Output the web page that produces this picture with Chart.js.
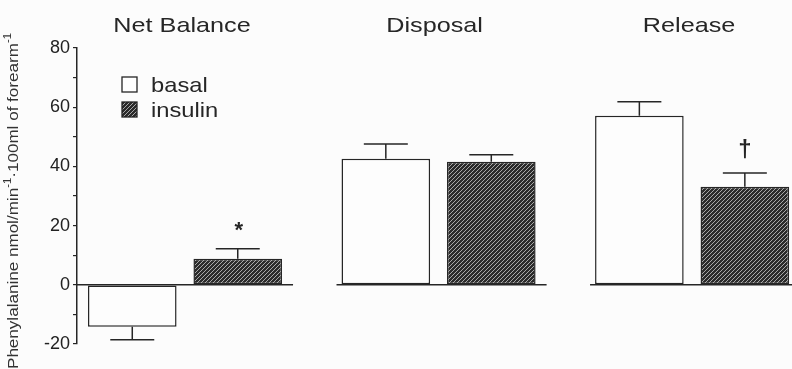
<!DOCTYPE html>
<html>
<head>
<meta charset="utf-8">
<script src="https://cdn.jsdelivr.net/npm/chart.js@4/dist/chart.umd.min.js"></script>
<style>
  html, body { margin: 0; padding: 0; background: #fcfcfc; }
  #wrap { width: 792px; height: 369px; }
</style>
</head>
<body>
<div id="wrap"><canvas id="chartPhe"></canvas></div>
<script>
// data
var groups     = ['Net Balance', 'Disposal', 'Release'];
var basal      = [-14.2, 42.6, 57.1];
var basalErr   = [4.4, 5.0, 4.7];
var insulin    = [8.8, 41.6, 33.1];
var insulinErr = [3.4, 2.3, 4.7];
var marks      = ['*', '', '\u2020'];   // significance symbols over insulin bars
var yTicks     = [-20, 0, 20, 40, 60, 80];

var ink = '#262626';
var font = '"Liberation Sans", Arial, Helvetica, sans-serif';

function hatch() {
    var c = document.createElement('canvas');
    c.width = 4; c.height = 4;
    var g = c.getContext('2d');
    g.fillStyle = '#2b2b2b';
    g.fillRect(0, 0, 4, 4);
    g.strokeStyle = '#a8a8a8';
    g.lineWidth = 1;
    g.beginPath();
    g.moveTo(0, 4); g.lineTo(4, 0);
    g.moveTo(-1, 1); g.lineTo(1, -1);
    g.moveTo(3, 5); g.lineTo(5, 3);
    g.stroke();
    return g.createPattern(c, 'repeat');
}
var hatchFill = hatch();

function stretchText(ctx, txt, x, y, sx, align) {
    ctx.save();
    ctx.translate(x, y);
    ctx.scale(sx, 1);
    ctx.textAlign = align || 'center';
    ctx.fillText(txt, 0, 0);
    ctx.restore();
}

var extras = {
    id: 'extras',
    afterDatasetsDraw: function(chart) {
        var ctx = chart.ctx;
        var y = chart.scales.y;
        var area = chart.chartArea;
        var mB = chart.getDatasetMeta(0).data;
        var mI = chart.getDatasetMeta(1).data;
        var y0 = y.getPixelForValue(0);
        ctx.save();
        ctx.strokeStyle = ink;
        ctx.fillStyle = ink;
        ctx.lineWidth = 1.5;

        // baseline pieces per group
        for (var i = 0; i < groups.length; i++) {
            var l = mB[i].x - mB[i].width / 2 - 5;
            if (i === 0) l = area.left;
            var r = Math.min(mI[i].x + mI[i].width / 2 + 11, area.right);
            ctx.beginPath();
            ctx.moveTo(l, y0); ctx.lineTo(r, y0);
            ctx.stroke();
        }

        // error bars
        function errBar(el, v, e) {
            var s = v < 0 ? -1 : 1;
            var top = y.getPixelForValue(v);
            var end = y.getPixelForValue(v + s * e);
            ctx.beginPath();
            ctx.moveTo(el.x, top); ctx.lineTo(el.x, end);
            ctx.moveTo(el.x - 22, end); ctx.lineTo(el.x + 22, end);
            ctx.stroke();
            return end;
        }
        for (var i = 0; i < groups.length; i++) {
            errBar(mB[i], basal[i], basalErr[i]);
            var end = errBar(mI[i], insulin[i], insulinErr[i]);
            if (marks[i] === '*') {
                ctx.font = 'bold 22px ' + font;
                stretchText(ctx, marks[i], mI[i].x + 1, end - 12, 1, 'center');
            } else if (marks[i]) {
                ctx.font = 'bold 24px ' + font;
                stretchText(ctx, marks[i], mI[i].x, end - 16, 1, 'center');
            }
        }

        // group titles
        ctx.font = '21px ' + font;
        ctx.textBaseline = 'alphabetic';
        var nudge = [-3, -4, -3];
        for (var i = 0; i < groups.length; i++) {
            var cx = (mB[i].x + mI[i].x) / 2 + nudge[i];
            stretchText(ctx, groups[i], cx, 32, 1.2, 'center');
        }

        // legend
        ctx.lineWidth = 1.3;
        ctx.fillStyle = '#fff';
        ctx.fillRect(122, 77, 15, 15);
        ctx.strokeRect(122, 77, 15, 15);
        ctx.fillStyle = hatchFill;
        ctx.fillRect(122, 102, 15, 15);
        ctx.strokeRect(122, 102, 15, 15);
        ctx.fillStyle = ink;
        ctx.font = '21px ' + font;
        stretchText(ctx, 'basal', 151, 92, 1.13, 'left');
        stretchText(ctx, 'insulin', 151, 117, 1.13, 'left');

        // rotated y title with superscripts
        var parts = [
            ['Phenylalanine nmol/min', false],
            ['-1', true],
            ['\u00b7100ml of forearm', false],
            ['-1', true]
        ];
        var big = '15px ' + font, small = '10px ' + font;
        var w = 0;
        parts.forEach(function(p) { ctx.font = p[1] ? small : big; w += ctx.measureText(p[0]).width; });
        var sx = 336 / w;
        ctx.save();
        ctx.translate(18, 369);
        ctx.rotate(-Math.PI / 2);
        ctx.scale(sx, 1);
        ctx.fillStyle = '#333';
        ctx.textAlign = 'left';
        ctx.textBaseline = 'alphabetic';
        var px = 0;
        parts.forEach(function(p) {
            ctx.font = p[1] ? small : big;
            ctx.fillText(p[0], px, p[1] ? -7 : 0);
            px += ctx.measureText(p[0]).width;
        });
        ctx.restore();

        ctx.restore();
    }
};

function drawChart() {
    var ctx = document.getElementById('chartPhe');
    var data = {
        datasets: [{
            label: 'basal',
            data: basal.map(function(v, i) { return {x: i, y: v}; }),
            backgroundColor: '#fdfdfd',
            borderColor: ink,
            borderWidth: 1.5,
            borderSkipped: false
        }, {
            label: 'insulin',
            data: insulin.map(function(v, i) { return {x: i, y: v}; }),
            backgroundColor: hatchFill,
            borderColor: ink,
            borderWidth: 1.5,
            borderSkipped: false
        }]
    };
    var options = {
        responsive: true,
        maintainAspectRatio: false,
        animation: false,
        categoryPercentage: 0.832,
        barPercentage: 0.84,
        layout: { padding: { top: 48, bottom: 25, left: 0, right: 0 } },
        plugins: { legend: { display: false }, tooltip: { enabled: false } },
        scales: {
            x: {
                type: 'linear',
                display: false,
                offset: false,
                min: -0.426,
                max: 2.394,
                // keep only the group positions as ticks so bar width follows the group spacing
                afterBuildTicks: function(s) {
                    s.ticks = groups.map(function(g, i) { return {value: i}; });
                }
            },
            y: {
                min: -20,
                max: 80,
                afterFit: function(s) { s.width = 77; },
                border: { display: true, color: ink, width: 1.5 },
                grid: { display: true, drawOnChartArea: false, drawTicks: true, tickLength: 4, color: ink, lineWidth: 1.2 },
                ticks: {
                    stepSize: 10,
                    padding: 3,
                    color: '#222',
                    font: { family: font, size: 18 },
                    callback: function(v) { return yTicks.indexOf(v) >= 0 ? String(v) : ''; }
                }
            }
        }
    };
    new Chart(ctx, { type: 'bar', data: data, options: options, plugins: [extras] });
}

drawChart();
</script>
</body>
</html>
